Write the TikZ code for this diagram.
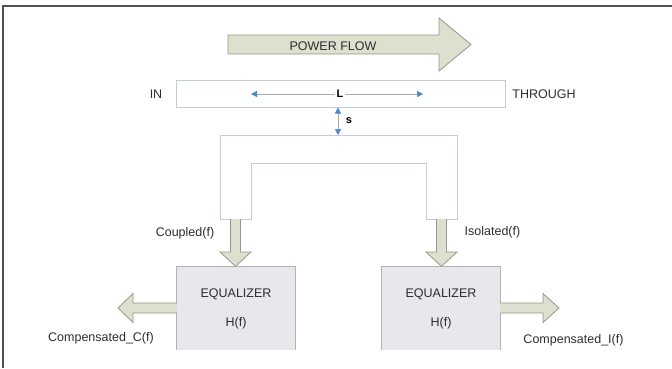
\documentclass[tikz,border=0pt]{standalone}
\usepackage{fontspec}
\setmainfont{Liberation Sans}
\usetikzlibrary{arrows.meta,calc}
\definecolor{arrfill}{RGB}{221,224,206}
\definecolor{arrdraw}{RGB}{150,152,136}
\definecolor{eqfill}{RGB}{231,231,236}
\definecolor{eqdraw}{RGB}{178,178,184}
\definecolor{linedraw}{RGB}{196,204,216}
\definecolor{dimblue}{RGB}{74,138,200}
\definecolor{dimline}{RGB}{170,170,170}
\definecolor{txt}{RGB}{45,45,45}
\definecolor{framec}{RGB}{80,80,80}
\begin{document}
\begin{tikzpicture}[x=1pt,y=-1pt,
  lbl/.style={font=\fontsize{12.5}{14}\selectfont, text=txt, inner sep=0pt},
  bold/.style={font=\fontsize{11}{13}\selectfont\bfseries, text=black, inner sep=1pt, fill=white},
  linebox/.style={draw=linedraw, line width=0.9pt, fill=white},
  bigarrow/.style={fill=arrfill, draw=arrdraw, line width=0.8pt, line join=miter},
  eqbox/.style={fill=eqfill, draw=none, minimum width=118pt, minimum height=83pt, inner sep=0pt},
  eqborder/.style={draw=eqdraw, line width=0.9pt},
  dimtip/.style={Triangle[length=6pt,width=6pt,color=dimblue]},
  dim/.style={draw=dimline, line width=0.5pt}
]
\useasboundingbox (0,0) rectangle (672,368);
% frame
\draw[framec, line width=1.4pt] (3,368) -- (3,6) -- (672,6);

% power flow arrow
\filldraw[bigarrow] (228,35) -- (439,35) -- (439,18) -- (471,44.5) -- (439,71) -- (439,54) -- (228,54) -- cycle;
\node[lbl] (pf) at (333,46) {POWER FLOW};

% main line
\node[linebox, minimum width=329pt, minimum height=27pt, inner sep=0pt] (main) at (340.5,93.5) {};
\node[lbl] (in) at (156,94) {IN};
\node[lbl] (thr) at (544,94) {THROUGH};
\coordinate (Lleft) at (251,94);
\coordinate (Lright) at (423,94);
\node[bold] (L) at (340,94) {L};
\draw[dim, -{Triangle[length=6pt,width=6pt,color=dimblue]}] (L) -- (Lleft);
\draw[dim, -{Triangle[length=6pt,width=6pt,color=dimblue]}] (L) -- (Lright);

% coupled line (U shape)
\draw[linebox] (220,219) -- (220,135) -- (457,135) -- (457,219) -- (426,219) -- (426,163) -- (251,163) -- (251,219) -- cycle;
\coordinate (legL) at (235.5,219);
\coordinate (legR) at (441.5,219);

% spacing s
\coordinate (stop) at (338,107.5);
\coordinate (sbot) at (338,135);
\draw[dim, {Triangle[length=6pt,width=6pt,color=dimblue]}-{Triangle[length=6pt,width=6pt,color=dimblue]}] (stop) -- (sbot);
\node[bold, fill=none] (s) at (349,121) {s};

% equalizers
\node[eqbox] (eqL) at (236,308) {};
\draw[eqborder] (eqL.south west) -- (eqL.north west) -- (eqL.north east) -- (eqL.south east);
\node[lbl] (eqLt) at (236,294) {EQUALIZER};
\node[lbl] (eqLh) at (236,323) {H(f)};

\node[eqbox] (eqR) at (441,308) {};
\draw[eqborder] (eqR.south west) -- (eqR.north west) -- (eqR.north east) -- (eqR.south east);
\node[lbl] (eqRt) at (441,294) {EQUALIZER};
\node[lbl] (eqRh) at (441,323) {H(f)};

% down arrows
\filldraw[bigarrow] ($(legL)+(-5,0)$) -- ($(legL)+(-5,33)$) -- ($(legL)+(-15.5,33)$) -- (legL |- eqL.north) -- ($(legL)+(15.5,33)$) -- ($(legL)+(5,33)$) -- ($(legL)+(5,0)$);
\filldraw[bigarrow] ($(legR)+(-5,0)$) -- ($(legR)+(-5,33)$) -- ($(legR)+(-15.5,33)$) -- (legR |- eqR.north) -- ($(legR)+(15.5,33)$) -- ($(legR)+(5,33)$) -- ($(legR)+(5,0)$);
\node[lbl] (coupled) at (185,233) {Coupled(f)};
\node[lbl] (isolated) at (492.5,232) {Isolated(f)};

% output arrows
\coordinate (outL) at (118,308);
\coordinate (outR) at (559,308);
\filldraw[bigarrow] ($(eqL.west)+(0,-5)$) -- ($(outL)+(15,-5)$) -- ($(outL)+(15,-14.5)$) -- (outL) -- ($(outL)+(15,14.5)$) -- ($(outL)+(15,5)$) -- ($(eqL.west)+(0,5)$);
\filldraw[bigarrow] ($(eqR.east)+(0,-5)$) -- ($(outR)+(-16,-5)$) -- ($(outR)+(-16,-14.5)$) -- (outR) -- ($(outR)+(-16,14.5)$) -- ($(outR)+(-16,5)$) -- ($(eqR.east)+(0,5)$);
\node[lbl] (compC) at (101,338) {Compensated\_C(f)};
\node[lbl] (compI) at (573.5,340) {Compensated\_I(f)};
\end{tikzpicture}
\end{document}
